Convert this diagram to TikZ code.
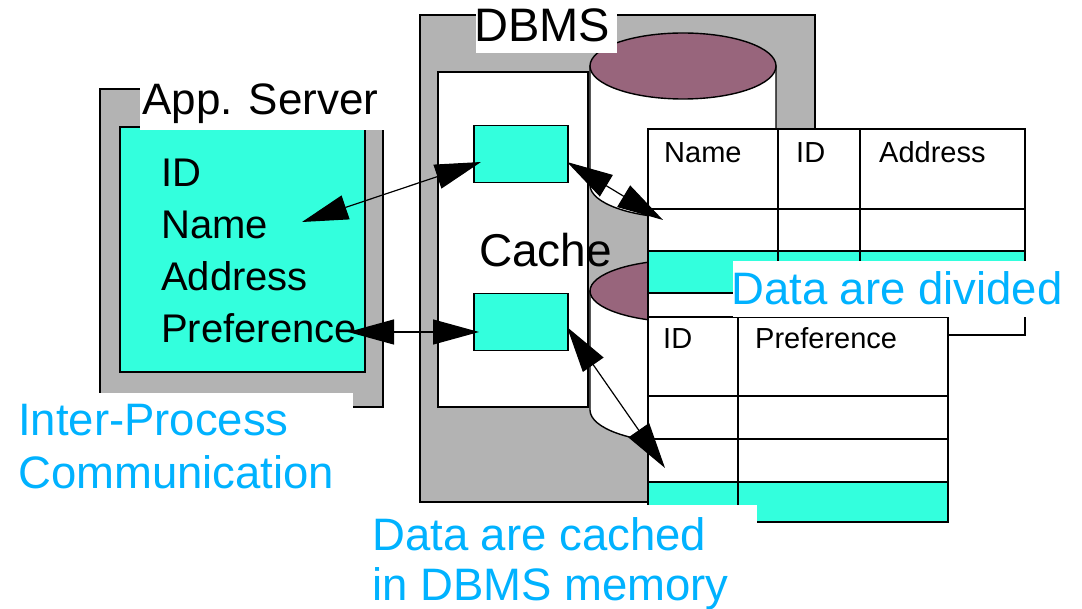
\documentclass[tikz,border=0pt]{standalone}
\usepackage{fontspec}
\setmainfont{Liberation Sans}
\usetikzlibrary{arrows.meta}
\definecolor{boxgray}{RGB}{179,179,179}
\definecolor{aqua}{RGB}{51,255,221}
\definecolor{plum}{RGB}{152,101,124}
\definecolor{skyblue}{RGB}{0,178,255}
\begin{document}
\begin{tikzpicture}[x=1pt,y=-1pt,line join=miter,
  frame/.style={draw=black,line width=1.4pt},
  grid/.style={draw=black,line width=1.3pt},
  txt/.style={anchor=base west,inner sep=0pt,text=black},
  field/.style={txt,font=\fontsize{40}{48}\selectfont},
  cell/.style={txt,font=\fontsize{29}{34}\selectfont},
  title/.style={txt,font=\fontsize{46}{52}\selectfont},
  note/.style={txt,text=skyblue,font=\fontsize{45.5}{52}\selectfont},
  dbl/.style={{Triangle[length=46pt,width=25pt]}-{Triangle[length=46pt,width=25pt]},line width=1.2pt},
  cachebox/.style={frame,fill=aqua,minimum width=94pt,minimum height=57pt,inner sep=0pt}]
\useasboundingbox (0,0) rectangle (1082,609);
\fill[white] (0,0) rectangle (1082,609);

% DBMS process with its cache area
\draw[frame,fill=boxgray] (420,15) rectangle (815,502);
\draw[frame,fill=white] (438,72) rectangle (588,407);

% upper disk
\draw[frame,fill=white] (590,66) -- (590,185)
  arc[start angle=180,end angle=360,x radius=93pt,y radius=33pt] -- (776,66) -- cycle;
\draw[frame,fill=plum] (683,66) ellipse[x radius=93pt,y radius=33pt];
% lower disk
\draw[frame,fill=white] (590,291) -- (590,410)
  arc[start angle=180,end angle=360,x radius=93pt,y radius=33pt] -- (776,291) -- cycle;
\draw[frame,fill=plum] (683,291) ellipse[x radius=93pt,y radius=31pt];

% table: Name / ID / Address
\fill[white] (648,129) rectangle (1025,335);
\fill[aqua] (648,251) rectangle (1025,293);
\draw[grid] (648,129) rectangle (1025,335);
\draw[grid] (648,209) -- (1025,209) (648,251) -- (1025,251) (648,293) -- (1025,293)
  (778,129) -- (778,335) (860,129) -- (860,335);
\node[cell] (tName) at (664,163) {Name};
\node[cell] (tId) at (796,163) {ID};
\node[cell] (tAddr) at (879,163) {Address};

% table: ID / Preference
\fill[white] (648,317) rectangle (948,522);
\fill[aqua] (648,482) rectangle (948,522);
\draw[grid] (648,317) rectangle (948,522);
\draw[grid] (648,396) -- (948,396) (648,439) -- (948,439) (648,482) -- (948,482)
  (738,317) -- (738,522);
\node[cell] (uId) at (663,349) {ID};
\node[cell] (uPref) at (755,349) {Preference};

% cached entries
\node[cachebox] (cacheA) at (521,154) {};
\node[cachebox] (cacheB) at (521,322) {};
\node[title] (cache) at (479,267) {Cache};

% application server
\draw[frame,fill=boxgray] (100,89) rectangle (383,407);
\draw[frame,fill=aqua] (120,127) rectangle (365,372);
\node[field] (fId) at (161,187) {ID};
\node[field] (fName) at (161,239) {Name};
\node[field] (fAddr) at (161,291) {Address};
\node[field] (fPref) at (161,343) {Preference};

% titles on white patches
\fill[white] (476,0) rectangle (617,53);
\node[title,font=\fontsize{47}{52}\selectfont] (dbms) at (474,42) {DBMS};
\fill[white] (140,76) rectangle (386,130);
\node[title,font=\fontsize{44}{50}\selectfont] (app) at (142,115) {App. Server};

% notes on white patches
\fill[white] (0,393) rectangle (353,500);
\node[note] (ipc1) at (18,436) {Inter-Process};
\node[note] (ipc2) at (18,488) {Communication};
\fill[white] (733,261) rectangle (1066,317);
\node[note] (divided) at (731,305) {Data are divided};
\fill[white] (370,505) rectangle (757,609);
\node[note] (cached1) at (372,550) {Data are cached};
\node[note] (cached2) at (372,600) {in DBMS memory};

% connector end points
\coordinate (pName) at (302,222);
\coordinate (pA1) at (481,162);
\coordinate (pA2) at (567,162);
\coordinate (pT1) at (663,220);
\coordinate (pPref) at (348,332);
\coordinate (pB1) at (479,332);
\coordinate (pB2) at (567,327);
\coordinate (pT2) at (665,468);

\draw[dbl] (pA1) -- (pName);
\draw[dbl] (pA2) -- (pT1);
\draw[dbl] (pPref) -- (pB1);
\draw[dbl] (pB2) -- (pT2);
\end{tikzpicture}
\end{document}
